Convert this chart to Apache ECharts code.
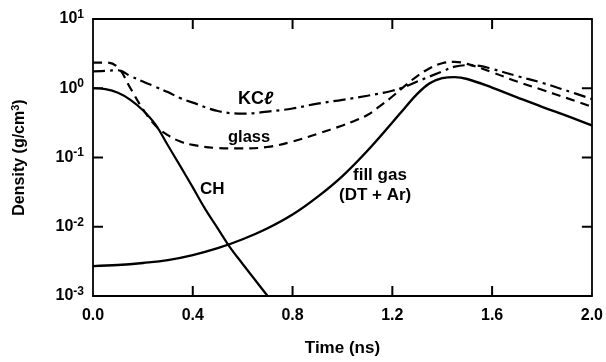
<!DOCTYPE html>
<html>
<head>
<meta charset="utf-8">
<style>html,body{margin:0;padding:0;background:#fff}#c{width:606px;height:362px}</style>
<script src="https://cdn.jsdelivr.net/npm/echarts@6/dist/echarts.min.js"></script>
</head>
<body>
<div id="c"></div>
<script>
// Data (time in ns, density in g/cm^3)
const chTime   = [0, 0.05, 0.1, 0.15, 0.2, 0.25, 0.3, 0.35, 0.4, 0.45, 0.5, 0.55, 0.6, 0.65, 0.7];
const chDens   = [1.0, 0.97, 0.86, 0.68, 0.48, 0.3, 0.15, 0.075, 0.037, 0.018, 0.0095, 0.005, 0.0029, 0.0017, 0.001];

const gasTime  = [0, 0.1, 0.2, 0.3, 0.4, 0.5, 0.6, 0.7, 0.8, 0.9, 1.0, 1.1, 1.2, 1.25, 1.3, 1.35, 1.4, 1.45, 1.5, 1.6, 1.7, 1.8, 1.9, 2.0];
const gasDens  = [0.0027, 0.0028, 0.003, 0.0033, 0.0039, 0.0049, 0.0066, 0.0095, 0.015, 0.027, 0.054, 0.125, 0.32, 0.52, 0.83, 1.18, 1.4, 1.45, 1.36, 1.02, 0.74, 0.54, 0.4, 0.29];

const glassTime = [0, 0.05, 0.1, 0.15, 0.2, 0.25, 0.3, 0.35, 0.4, 0.5, 0.6, 0.7, 0.8, 0.9, 1.0, 1.05, 1.1, 1.15, 1.2, 1.25, 1.3, 1.35, 1.4, 1.45, 1.5, 1.6, 1.7, 1.8, 1.9, 2.0];
const glassDens = [2.35, 2.35, 2.0, 1.0, 0.5, 0.29, 0.21, 0.17, 0.152, 0.137, 0.135, 0.142, 0.17, 0.22, 0.29, 0.34, 0.41, 0.55, 0.76, 1.08, 1.5, 1.95, 2.3, 2.4, 2.25, 1.7, 1.25, 0.95, 0.72, 0.54];

const kclTime  = [0, 0.05, 0.1, 0.15, 0.2, 0.25, 0.3, 0.35, 0.4, 0.5, 0.6, 0.7, 0.8, 0.9, 1.0, 1.1, 1.2, 1.25, 1.3, 1.4, 1.45, 1.5, 1.55, 1.6, 1.7, 1.8, 1.9, 2.0];
const kclDens  = [1.75, 1.78, 1.82, 1.5, 1.25, 1.05, 0.88, 0.72, 0.62, 0.47, 0.43, 0.46, 0.51, 0.6, 0.68, 0.78, 0.92, 1.05, 1.25, 1.75, 2.05, 2.15, 2.1, 1.9, 1.5, 1.2, 0.92, 0.7];

// Tick positions (interior ticks drawn on the frame)
const xTicks = [0.4, 0.8, 1.2, 1.6];
const yTicks = [0.01, 0.1, 1];
const xMin = 0, xMax = 2, yMin = 0.001, yMax = 10;

const FONT = 'Liberation Sans, Arial, Helvetica, sans-serif';
const pairs = (t, v) => t.map((x, i) => [x, v[i]]);

const chart = echarts.init(document.getElementById('c'));

const axLine = () => ({show: true, onZero: false, lineStyle: {color: '#000', width: 1.8}});
const TICK = 10;
const tickStyle = {stroke: '#000', lineWidth: 2};

const sup = v => {
  const e = Math.round(Math.log10(v));
  return '{b|10}{s|' + e + '}';
};

const option = {
  animation: false,
  backgroundColor: '#fff',
  grid: {left: 93, right: 13, top: 19, bottom: 63, containLabel: false},
  xAxis: [{
    type: 'value', min: xMin, max: xMax, interval: 0.4,
    axisLine: axLine(),
    axisTick: {show: false},
    splitLine: {show: false},
    axisLabel: {color: '#000', fontFamily: FONT, fontWeight: 'bold', fontSize: 16, margin: 12,
      formatter: v => v.toFixed(1)},
    name: 'Time (ns)', nameLocation: 'middle', nameGap: 44,
    nameTextStyle: {color: '#000', fontFamily: FONT, fontWeight: 'bold', fontSize: 17}
  }, {
    type: 'value', min: xMin, max: xMax, interval: 0.4, position: 'top',
    axisLine: axLine(),
    axisTick: {show: false}, axisLabel: {show: false}, splitLine: {show: false}
  }],
  yAxis: [{
    type: 'log', logBase: 10, min: yMin, max: yMax,
    axisLine: axLine(),
    axisTick: {show: false}, minorTick: {show: false},
    splitLine: {show: false},
    axisLabel: {color: '#000', fontFamily: FONT, fontWeight: 'bold', margin: 9,
      formatter: sup,
      rich: {
        b: {fontFamily: FONT, fontWeight: 'bold', fontSize: 16, color: '#000'},
        s: {fontFamily: FONT, fontWeight: 'bold', fontSize: 12, color: '#000', padding: [0, 0, 9, 0]}
      }},
    name: '{a|Density (g/cm}{s|3}{a|)}', nameLocation: 'middle', nameGap: 64, nameRotate: 90,
    nameTextStyle: {color: '#000', fontFamily: FONT, fontWeight: 'bold', fontSize: 16,
      rich: {
        a: {fontFamily: FONT, fontWeight: 'bold', fontSize: 16, color: '#000'},
        s: {fontFamily: FONT, fontWeight: 'bold', fontSize: 11, color: '#000', padding: [0, 0, 8, 0]}
      }}
  }, {
    type: 'log', logBase: 10, min: yMin, max: yMax, position: 'right',
    axisLine: axLine(),
    axisTick: {show: false}, axisLabel: {show: false}, splitLine: {show: false}
  }],
  series: [
    {name: 'CH', type: 'line', data: pairs(chTime, chDens), smooth: 0.4, symbol: 'none',
      lineStyle: {color: '#000', width: 2.2, type: 'solid'}},
    {name: 'fill gas', type: 'line', data: pairs(gasTime, gasDens), smooth: 0.4, symbol: 'none',
      lineStyle: {color: '#000', width: 2.4, type: 'solid'}},
    {name: 'glass', type: 'line', data: pairs(glassTime, glassDens), smooth: 0.4, symbol: 'none',
      lineStyle: {color: '#000', width: 2.2, type: [9, 6]}},
    {name: 'KCl', type: 'line', data: pairs(kclTime, kclDens), smooth: 0.4, symbol: 'none',
      lineStyle: {color: '#000', width: 2.2, type: [12, 5, 3, 5]}},
    // inward tick marks on bottom and top edges, placed through the axis scales
    {name: 'xticks', type: 'custom', clip: false, silent: true, z: 5,
      data: xTicks.map(t => [t, 1]),
      renderItem: (params, api) => {
        const t = api.value(0);
        const b = api.coord([t, yMin]);
        const tp = api.coord([t, yMax]);
        return {type: 'group', children: [
          {type: 'line', shape: {x1: b[0], y1: b[1], x2: b[0], y2: b[1] - TICK}, style: tickStyle},
          {type: 'line', shape: {x1: tp[0], y1: tp[1], x2: tp[0], y2: tp[1] + TICK}, style: tickStyle}
        ]};
      }},
    // inward tick marks on left and right edges
    {name: 'yticks', type: 'custom', clip: false, silent: true, z: 5,
      data: yTicks.map(v => [1, v]),
      renderItem: (params, api) => {
        const v = api.value(1);
        const l = api.coord([xMin, v]);
        const r = api.coord([xMax, v]);
        return {type: 'group', children: [
          {type: 'line', shape: {x1: l[0], y1: l[1], x2: l[0] + TICK, y2: l[1]}, style: tickStyle},
          {type: 'line', shape: {x1: r[0], y1: r[1], x2: r[0] - TICK, y2: r[1]}, style: tickStyle}
        ]};
      }}
  ],
  graphic: [
    {type: 'text', left: 238, top: 90, style: {rich: {
        a: {fontFamily: FONT, fontWeight: 'bold', fontSize: 18, fill: '#000'},
        l: {fontFamily: FONT, fontWeight: 'bold', fontStyle: 'italic', fontSize: 18, fill: '#000'}},
      text: '{a|KC}{l|ℓ}'}},
    {type: 'text', left: 228, top: 129, style: {text: 'glass', fontFamily: FONT, fontWeight: 'bold', fontSize: 16.5, fill: '#000'}},
    {type: 'text', left: 200, top: 181, style: {text: 'CH', fontFamily: FONT, fontWeight: 'bold', fontSize: 17, fill: '#000'}},
    {type: 'text', left: 353, top: 167, style: {text: 'fill gas', fontFamily: FONT, fontWeight: 'bold', fontSize: 17, fill: '#000'}},
    {type: 'text', left: 339, top: 187, style: {text: '(DT + Ar)', fontFamily: FONT, fontWeight: 'bold', fontSize: 17, fill: '#000'}}
  ]
};
chart.setOption(option);
</script>
</body>
</html>
